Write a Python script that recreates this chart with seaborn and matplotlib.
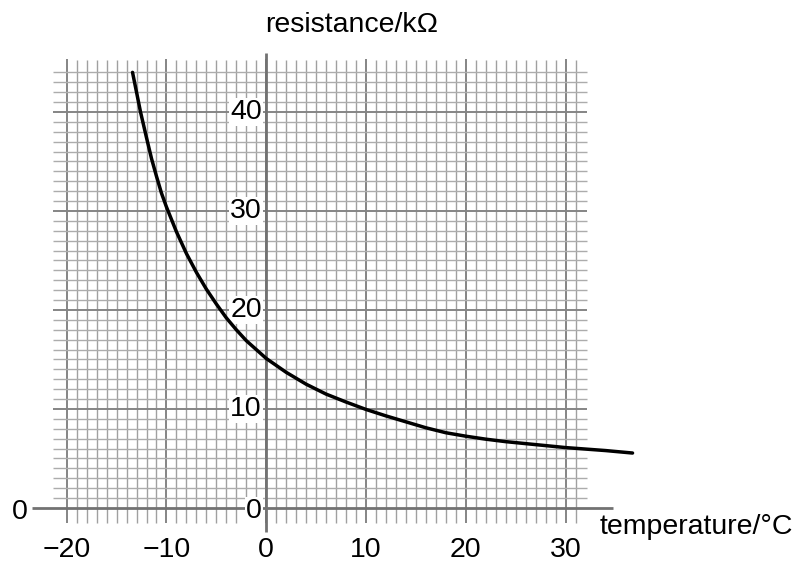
import numpy as np
import matplotlib
matplotlib.use("Agg")
import matplotlib.pyplot as plt
import seaborn as sns
import pandas as pd

sns.set_style("white")
plt.rcParams['font.family'] = ['Liberation Sans', 'DejaVu Sans']
plt.rcParams['text.color'] = 'black'

# curve (temperature in °C, resistance in kΩ)
temperature = [-13.4, -13.0, -12.6, -12.0, -11.5, -11.0, -10.5, -10.0, -9.0, -8.0,
               -7.0, -6.0, -5.0, -4.0, -3.0, -2.0, -1.0, 0.0, 2.0, 4.0,
               6.0, 8.0, 10.0, 12.0, 14.0, 16.0, 18.0, 20.0, 22.0, 24.0,
               26.0, 28.0, 30.0, 32.0, 34.0, 36.7]
resistance = [44.0, 42.0, 40.0, 37.4, 35.3, 33.5, 31.8, 30.4, 27.9, 25.7,
              23.8, 22.1, 20.6, 19.2, 18.0, 16.9, 16.0, 15.1, 13.7, 12.5,
              11.5, 10.7, 9.95, 9.3, 8.7, 8.1, 7.6, 7.25, 6.95, 6.7,
              6.5, 6.3, 6.1, 5.95, 5.8, 5.55]

x_ticks = [-20, -10, 0, 10, 20, 30]
y_ticks = [0, 10, 20, 30, 40]
x_label = "temperature/°C"
y_label = "resistance/kΩ"

df = pd.DataFrame({"T": temperature, "R": resistance})

fig = plt.figure(figsize=(8.03, 5.66), dpi=100)
ax = fig.add_axes([0, 0, 1, 1])
ax.set_xlim(-26.68, 53.78)
ax.set_ylim(-5.86, 51.31)
ax.axis("off")

# graph paper
for v in range(-20, 32):
    major = v % 10 == 0
    ax.plot([v, v], [-1.5, 45.4 if major else 45.2],
            color="#858585" if major else "#a0a0a0",
            lw=1.4 if major else 1.0, zorder=1, solid_capstyle="butt")
for h in range(1, 45):
    major = h % 10 == 0
    ax.plot([-21.4, 32.1], [h, h],
            color="#858585" if major else "#acacac",
            lw=1.4 if major else 1.0, zorder=1, solid_capstyle="butt")

# axes lines
ax.plot([-23.5, 34.7], [0, 0], color="#727272", lw=2.0, zorder=2, solid_capstyle="butt")
ax.plot([0, 0], [-2.4, 46.0], color="#727272", lw=2.0, zorder=2, solid_capstyle="butt")

sns.lineplot(data=df, x="T", y="R", ax=ax, color="black", lw=2.5, sort=False, zorder=5)

fs = 20.5
for t in x_ticks:
    lab = f"{t}".replace("-", "\u2212")
    ax.text(t, -4.24, lab, ha="center", va="center", fontsize=fs, zorder=6)
for t in y_ticks:
    ax.text(-0.43, t - 0.3 if t == 0 else t, str(t), ha="right", va="center", fontsize=fs,
            zorder=4, bbox=dict(fc="white", ec="none", pad=1.0))
ax.text(-24.7, -0.4, "0", ha="center", va="center", fontsize=fs, zorder=6)

ax.text(8.6, 48.8, y_label, ha="center", va="center", fontsize=fs)
ax.text(33.4, -1.9, x_label, ha="left", va="center", fontsize=fs)

fig.savefig("out.png", dpi=100)
